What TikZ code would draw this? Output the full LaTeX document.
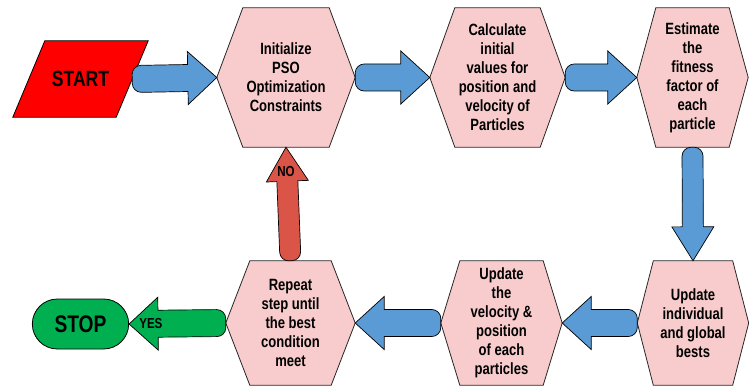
\documentclass[tikz,border=0pt]{standalone}
\usepackage{fontspec}
\setmainfont{Liberation Sans}[FakeStretch=0.8]
\usetikzlibrary{shapes.misc, positioning, backgrounds, calc}

\definecolor{hexpink}{RGB}{248,204,204}
\definecolor{flowblue}{RGB}{91,155,213}
\definecolor{stopgreen}{RGB}{0,176,80}
\definecolor{nored}{RGB}{218,84,72}

\tikzset{
  stepbox/.style={inner sep=0pt, align=center, minimum height=139pt,
    font=\bfseries\fontsize{16.3}{19}\selectfont},
  lowbox/.style={stepbox, minimum height=124pt},
  hexline/.style={draw=black!85, line width=0.8pt, fill=hexpink},
  arrowline/.style={draw=black, line width=0.7pt},
  startbox/.style={minimum width=135pt, minimum height=76pt, inner sep=0pt,
    font=\bfseries\fontsize{22}{24}\selectfont},
  stopbox/.style={rounded rectangle, minimum width=103pt, minimum height=50pt,
    fill=stopgreen, draw=black, line width=0.8pt, font=\bfseries\fontsize{24}{26}\selectfont},
  tag/.style={inner sep=0pt, font=\bfseries\fontsize{14.5}{16}\selectfont}
}

% block arrow: fill, half body, half head, head length, from, to
\newcommand{\blockarrow}[6]{%
  \draw[arrowline, fill=#1] let \p1=(#5), \p2=(#6),
    \n1={veclen(\x2-\x1,\y2-\y1)}, \n2={atan2(\y2-\y1,\x2-\x1)} in
    [shift={(\p1)}, rotate=\n2]
    ({\n1-#4},#2) -- (9pt,#2) arc[start angle=90, end angle=180, radius=9pt]
    -- (0pt,{-#2+9pt}) arc[start angle=180, end angle=270, radius=9pt]
    -- ({\n1-#4},-#2) -- ({\n1-#4},-#3) -- (\n1,0pt) -- ({\n1-#4},#3) -- cycle;}
\newcommand{\harrow}[3]{\blockarrow{#1}{13.5pt}{26.5pt}{29pt}{#2}{#3}}
\newcommand{\varrow}[3]{\blockarrow{#1}{10.5pt}{21pt}{34pt}{#2}{#3}}

\begin{document}
\begin{tikzpicture}[x=1pt, y=-1pt]
\useasboundingbox (0,0) rectangle (749,387);

% terminals
\node[startbox] (start) at (80.5,79) {START};
\node[stopbox] (stop) at (80.5,324) {STOP};

% process steps
\node[stepbox, minimum width=138pt] (init) at (286,77.5) {Initialize\\PSO\\Optimization\\Constraints};
\node[stepbox, minimum width=135pt] (calc) at (497.5,77.5) {Calculate\\initial\\values for\\position and\\velocity of\\Particles};
\node[stepbox, minimum width=111pt] (fit) at (692.5,77.5) {Estimate\\the\\fitness\\factor of\\each\\particle};
\node[lowbox, minimum width=111pt] (best) at (693,323) {Update\\individual\\and global\\bests};
\node[lowbox, minimum width=121pt] (upd) at (501.5,323) {Update\\the\\velocity \&\\position\\of each\\particles};
\node[lowbox, minimum width=129pt] (rep) at (290.5,323) {Repeat\\step until\\the best\\condition\\meet};

\begin{scope}[on background layer]
  \draw[fill=red, draw=black, line width=0.8pt] (start.south west) -- ([xshift=32pt]start.north west)
    -- (start.north east) -- ([xshift=-32pt]start.south east) -- cycle;
  \foreach \n/\s in {init/26, calc/25, fit/19, best/16, upd/19, rep/24}
    \draw[hexline] (\n.west) -- ([xshift=\s pt]\n.north west) -- ([xshift=-\s pt]\n.north east)
      -- (\n.east) -- ([xshift=-\s pt]\n.south east) -- ([xshift=\s pt]\n.south west) -- cycle;
\end{scope}

% connectors
\harrow{flowblue}{[xshift=-16pt]start.east}{init.west}
\harrow{flowblue}{init.east}{calc.west}
\harrow{flowblue}{calc.east}{fit.west}
\varrow{flowblue}{fit.south}{best.north}
\harrow{flowblue}{best.west}{upd.east}
\harrow{flowblue}{upd.west}{rep.east}
\harrow{stopgreen}{rep.west}{stop.east}
\varrow{nored}{rep.north}{init.south}

\node[tag, below=19pt of init.south] (no) {NO};
\node[tag, right=10pt of stop.east] (yes) {YES};
\end{tikzpicture}
\end{document}
